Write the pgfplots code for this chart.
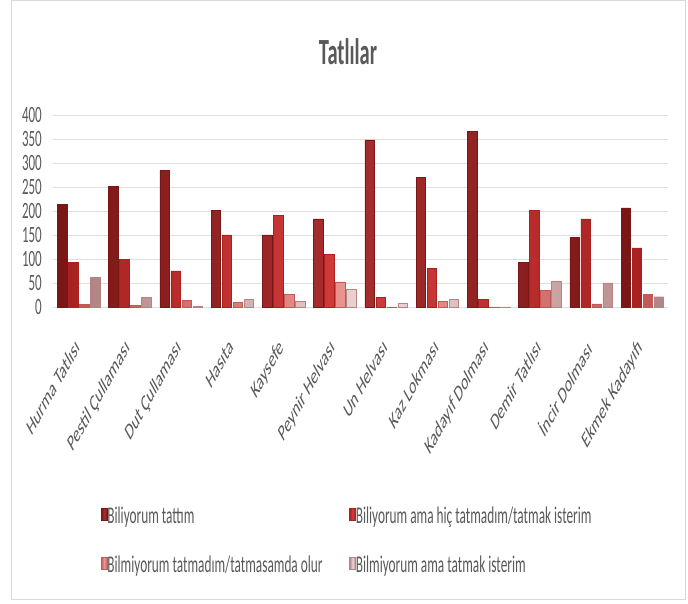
\documentclass[border=0pt]{standalone}
\usepackage{pgfplots}
\pgfplotsset{compat=1.18}
\usepackage{pgfplotstable}
\usepackage{graphicx}
\usepackage{fontspec}
\setmainfont{Carlito}
\definecolor{txt}{HTML}{595959}
\definecolor{c1e}{HTML}{7A1616}
\definecolor{c1m}{HTML}{A82E2E}
\definecolor{c2e}{HTML}{A82222}
\definecolor{c2m}{HTML}{D23C3A}
\definecolor{c3e}{HTML}{C45856}
\definecolor{c3m}{HTML}{EE9896}
\definecolor{c4e}{HTML}{B48484}
\definecolor{c4m}{HTML}{EED6D6}
\newcommand{\vs}[1]{\scalebox{1}[1.8]{#1}}
\newcommand{\xl}[1]{\scalebox{1}[1.8]{\rotatebox{45}{#1}}}
\pgfplotstableread{
x s1 s2 s3 s4
0 215 93 6 62
1 252 100 4 21
2 285 76 15 2
3 202 151 11 17
4 151 191 27 12
5 184 110 53 38
6 349 21 1 9
7 271 81 13 17
8 367 17 1 1
9 94 202 35 55
10 146 184 7 51
11 207 124 27 22
}\data
\begin{document}
\begin{tikzpicture}
\useasboundingbox (0,0) rectangle (688pt,604pt);
\draw[gray!30, line width=1pt] (11pt,4pt) rectangle (685pt,603pt);
\node[anchor=base, text=txt, font=\fontsize{20.5}{22}\selectfont\bfseries, inner sep=0pt] at (348pt,539pt) {\vs{Tatlılar}};
\begin{axis}[
  at={(53pt,296.7pt)}, anchor=south west,
  scale only axis, width=615pt, height=192pt,
  xmin=-0.5, xmax=11.5, ymin=0, ymax=400,
  ybar=1.5pt, bar width=9.5pt,
  xtick={0,...,11},
  xticklabels={\xl{Hurma Tatlısı},\xl{Pestil Çullaması},\xl{Dut Çullaması},\xl{Hasıta},\xl{Kaysefe},\xl{Peynir Helvası},\xl{Un Helvası},\xl{Kaz Lokması},\xl{Kadayıf Dolması},\xl{Demir Tatlısı},\xl{İncir Dolması},\xl{Ekmek Kadayıfı}},
  ytick={0,50,...,400},
  ymajorgrids, grid style={gray!25, line width=0.9pt},
  axis line style={draw=none},
  major tick length=0pt,
  /pgf/number format/assume math mode=true,
  tick label style={text=txt, font=\fontsize{13}{13}\selectfont},
  yticklabel={\vs{\pgfmathprintnumber{\tick}}},
  yticklabel style={anchor=east, inner sep=0pt, xshift=-11pt},
  xticklabel style={anchor=north east, inner sep=0pt, xshift=2pt, yshift=-30pt},
  legend columns=2,
  legend style={at={(0,0)}, anchor=north west, xshift=48pt, yshift=-200.7pt,
    draw=none, fill=none, inner sep=0pt, outer sep=0pt, row sep=30pt, column sep=0pt,
    nodes={inner sep=0pt, outer sep=0pt, text=txt, font=\fontsize{13.3}{13}\selectfont, anchor=base west, text height=12pt, text depth=4pt}},
  legend image code/.code={\coordinate (lgA) at (0pt,0pt); \coordinate (lgB) at (9pt,1pt); \draw[#1] (1pt,3pt) rectangle (7pt,15pt);},
]
\addplot[draw=c1e, line width=0.4pt, left color=c1e, right color=c1e, middle color=c1m] table[x=x,y=s1]{\data};
\addlegendentry{\makebox[242pt][l]{\vs{Biliyorum tattım}}}
\addplot[draw=c2e, line width=0.4pt, left color=c2e, right color=c2e, middle color=c2m] table[x=x,y=s2]{\data};
\addlegendentry{\vs{Biliyorum ama hiç tatmadım/tatmak isterim}}
\addplot[draw=c3e, line width=0.4pt, left color=c3e, right color=c3e, middle color=c3m] table[x=x,y=s3]{\data};
\addlegendentry{\makebox[242pt][l]{\vs{Bilmiyorum tatmadım/tatmasamda olur}}}
\addplot[draw=c4e, line width=0.4pt, left color=c4e, right color=c4e, middle color=c4m] table[x=x,y=s4]{\data};
\addlegendentry{\vs{Bilmiyorum ama tatmak isterim}}
\end{axis}
\end{tikzpicture}
\end{document}
